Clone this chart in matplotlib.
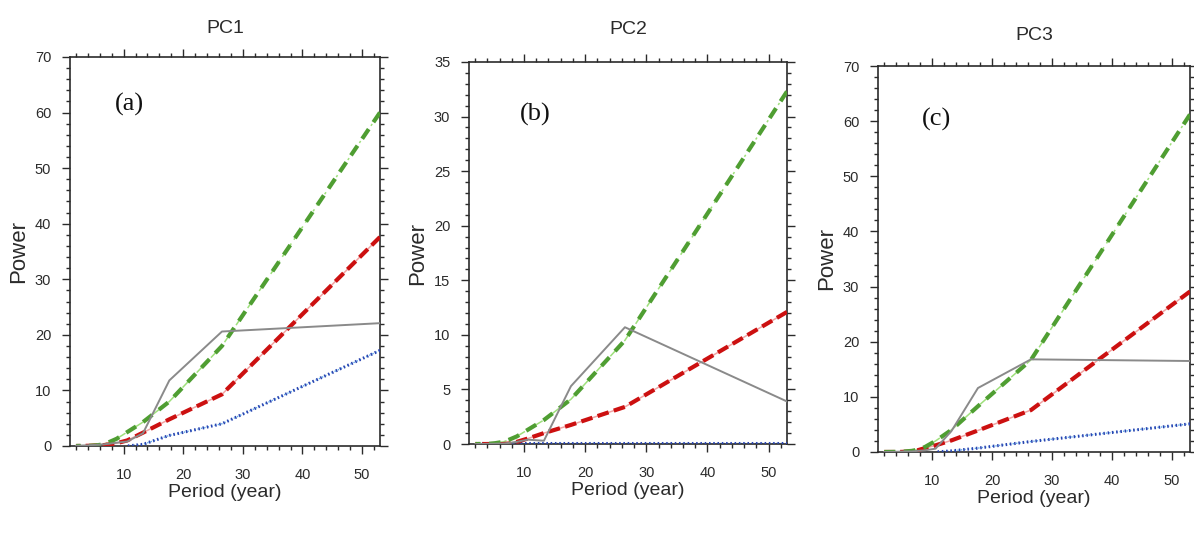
import matplotlib
matplotlib.use("Agg")
import matplotlib.pyplot as plt
from matplotlib.ticker import MultipleLocator

# periods (years) of the spectral estimates, 53-yr record
PERIOD = [53.0, 26.5, 17.67, 13.25, 10.6, 8.83, 7.57, 6.63, 5.3, 4.42, 3.31, 2.04]

# PC1
SPEC1 = [22.1, 20.6, 11.8, 2.3, 0.8, 0.6, 0.4, 0.3, 0.2, 0.15, 0.1, 0.05]
RED1 = [37.6, 9.3, 4.8, 2.4, 1.0, 0.5, 0.3, 0.15, 0.1, 0.05, 0.02, 0.0]
GREEN1 = [60.0, 18.0, 8.0, 4.3, 2.5, 1.3, 0.7, 0.3, 0.1, 0.05, 0.02, 0.0]
BLUE1 = [17.2, 4.0, 1.9, 0.3, 0.0]

# PC2
SPEC2 = [3.9, 10.7, 5.3, 0.3, 0.4, 0.2, 0.1, 0.05, 0.03, 0.02, 0.01, 0.0]
RED2 = [12.1, 3.4, 1.75, 1.0, 0.5, 0.2, 0.05, 0.0, 0.0, 0.0, 0.0, 0.0]
GREEN2 = [32.3, 9.5, 4.1, 2.2, 1.3, 0.7, 0.4, 0.2, 0.08, 0.03, 0.01, 0.0]
BLUE2 = [0.1, 0.1, 0.1, 0.1, 0.1, 0.1, 0.1, 0.1, 0.1, 0.1, 0.1, 0.1]

# PC3
SPEC3 = [16.5, 16.8, 11.6, 3.8, 0.6, 0.3, 0.2, 0.1, 0.1, 0.05, 0.02, 0.0]
RED3 = [29.1, 7.6, 3.9, 2.1, 1.2, 0.7, 0.3, 0.1, 0.03, 0.0, 0.0, 0.0]
GREEN3 = [61.2, 16.7, 8.3, 4.0, 2.0, 0.9, 0.4, 0.2, 0.08, 0.03, 0.01, 0.0]
BLUE3 = [5.1, 1.9, 0.7, 0.2, 0.0]

TITLES = ["PC1", "PC2", "PC3"]
TAGS = ["(a)", "(b)", "(c)"]
YMAX = [70, 35, 70]
YSTEP = [10, 5, 10]

INK = "#2b2b2b"
GREY = "#8a8a8a"
SANS = ["Liberation Sans", "DejaVu Sans"]

panels = [
    dict(spec=SPEC1, red=RED1, green=GREEN1, blue=BLUE1,
         rect=[0.0586, 0.1648, 0.2596, 0.7285], pad=17, tag_xy=(11.0, 61.5)),
    dict(spec=SPEC2, red=RED2, green=GREEN2, blue=BLUE2,
         rect=[0.3928, 0.1685, 0.2663, 0.7154], pad=20, tag_xy=(11.8, 30.2)),
    dict(spec=SPEC3, red=RED3, green=GREEN3, blue=BLUE3,
         rect=[0.7353, 0.1536, 0.2613, 0.7228], pad=19, tag_xy=(10.7, 60.3)),
]

fig = plt.figure(figsize=(11.94, 5.34), dpi=100)

for i, p in enumerate(panels):
    ax = fig.add_axes(p["rect"])
    nb = len(p["blue"])

    # significance curves: thin light line under a heavy patterned one
    ax.plot(PERIOD[:nb], p["blue"], color="#5aa8ec", lw=1.0,
            linestyle=(0, (1, 1.5)), zorder=2)
    ax.plot(PERIOD[:nb], p["blue"], color="#2a44b0", lw=2.2,
            linestyle=(0, (0.5, 0.9)), zorder=3)
    ax.plot(PERIOD, p["red"], color="#f2a4a4", lw=1.1, zorder=2)
    ax.plot(PERIOD, p["red"], color="#cc1010", lw=3.0,
            linestyle=(0, (2.8, 1.3)), zorder=3)
    ax.plot(PERIOD, p["green"], color="#9fe07c", lw=1.1,
            linestyle=(0, (6, 3, 1.5, 3)), zorder=2)
    ax.plot(PERIOD, p["green"], color="#4f9e32", lw=3.0,
            linestyle=(0, (2.8, 2.0)), zorder=3)
    # spectrum
    ax.plot(PERIOD, p["spec"], color=GREY, lw=1.4, zorder=4)

    ax.set_xlim(1, 53)
    ax.set_ylim(0, YMAX[i])
    ax.xaxis.set_major_locator(MultipleLocator(10))
    ax.xaxis.set_minor_locator(MultipleLocator(2))
    ax.yaxis.set_major_locator(MultipleLocator(YSTEP[i]))
    ax.yaxis.set_minor_locator(MultipleLocator(YSTEP[i] / 5))
    ax.tick_params(which="both", direction="out", top=True, right=True,
                   colors=INK, width=1.0)
    ax.tick_params(which="major", length=5.5)
    ax.tick_params(which="minor", length=2.6)
    ax.tick_params(axis="x", which="major", pad=10)
    ax.tick_params(axis="y", which="major", pad=8)
    for s in ax.spines.values():
        s.set_color(INK)
        s.set_linewidth(1.2)
    for lab in ax.get_xticklabels() + ax.get_yticklabels():
        lab.set_family(SANS)
        lab.set_fontsize(10.5)
        lab.set_color(INK)

    ax.set_title(TITLES[i], family=SANS, fontsize=14, color=INK,
                 pad=p["pad"])
    ax.set_xlabel("Period (year)", family=SANS, fontsize=14,
                  color=INK, labelpad=2)
    ax.set_ylabel("Power", family=SANS, fontsize=16, color=INK, labelpad=4)
    ax.text(*p["tag_xy"], TAGS[i], family=["Liberation Serif", "DejaVu Serif"],
            fontsize=19, color="#111111", ha="center", va="center")

fig.savefig("out.png", dpi=100, facecolor="white")
